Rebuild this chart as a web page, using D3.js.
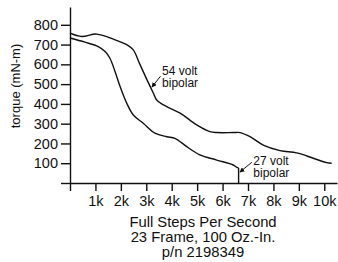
<!DOCTYPE html>
<html>
<head>
<meta charset="utf-8">
<script src="https://cdn.jsdelivr.net/npm/d3@7"></script>
<style>
  body { margin: 0; background: #fff; }
  text { font-family: "Liberation Sans", Arial, sans-serif; fill: #111; }
</style>
</head>
<body>
<div id="chart"></div>
<script>
// 54 volt bipolar curve (steps/s, mN-m)
const freq54 = [0, 460, 1050, 1770, 2290, 2490, 2750, 3020, 3280, 3410, 3800, 4330, 4980, 5500, 5770, 6420, 6690, 7080, 7600, 8260, 8920, 9570, 10090, 10290]
const torque54 = [758, 741, 753, 724, 695, 673, 600, 524, 454, 420, 386, 353, 294, 260, 255, 255, 255, 234, 192, 164, 152, 125, 103, 100]

// 27 volt bipolar curve
const freq27 = [0, 590, 1110, 1380, 1570, 1770, 1970, 2230, 2490, 2880, 3340, 3800, 4130, 4590, 5110, 5770, 6420, 6560, 6630]
const torque27 = [733, 712, 690, 665, 631, 564, 488, 404, 344, 302, 252, 234, 226, 184, 142, 116, 91, 79, 76]

const xTicks = [0, 1000, 2000, 3000, 4000, 5000, 6000, 7000, 8000, 9000, 10000]
const yTicks = [0, 100, 200, 300, 400, 500, 600, 700, 800]
const titleLines = ["Full Steps Per Second", "23 Frame, 100 Oz.-In.", "p/n 2198349"]

var width = 338, height = 262

var svg = d3.select("#chart").append("svg")
    .attr("width", width)
    .attr("height", height)

var x = d3.scaleLinear().domain([0, 10500]).range([70, 337])
var y = d3.scaleLinear().domain([0, 890]).range([183, 7])

var xAxis = d3.axisBottom(x)
    .tickValues(xTicks)
    .tickSize(8)
    .tickSizeOuter(0)
    .tickPadding(5)
    .tickFormat(d => d === 0 ? "" : (d / 1000) + "k")

var yAxis = d3.axisLeft(y)
    .tickValues(yTicks)
    .tickSize(9)
    .tickSizeOuter(0)
    .tickPadding(3)
    .tickFormat(d => d === 0 ? "" : d)

svg.append("g")
    .attr("transform", "translate(0," + y(0) + ")")
    .call(xAxis)
svg.append("g")
    .attr("transform", "translate(" + x(0) + ",0)")
    .call(yAxis)

svg.selectAll(".domain, .tick line")
    .attr("stroke", "#111")
    .attr("stroke-width", 1.4)
svg.selectAll(".tick text")
    .style("font-family", '"Liberation Sans", Arial, sans-serif')
    .style("font-size", "14.5px")
    .attr("fill", "#111")

// y-axis title
svg.append("text")
    .attr("transform", "translate(20,86) rotate(-90)")
    .attr("text-anchor", "middle")
    .style("font-size", "13px")
    .text("torque (mN-m)")

// x-axis titles
svg.selectAll(".xtitle")
    .data(titleLines)
    .enter()
    .append("text")
    .attr("class", "xtitle")
    .attr("x", 203)
    .attr("y", (d, i) => 227 + i * 15)
    .attr("text-anchor", "middle")
    .style("font-size", "14.8px")
    .text(d => d)

var line = d3.line()
    .x(d => x(d[0]))
    .y(d => y(d[1]))
    .curve(d3.curveCatmullRom.alpha(0.5))

var pts54 = freq54.map((f, i) => [f, torque54[i]])
var pts27 = freq27.map((f, i) => [f, torque27[i]])

svg.append("path")
    .datum(pts54)
    .attr("d", line)
    .attr("fill", "none")
    .attr("stroke", "#111")
    .attr("stroke-width", 1.4)

svg.append("path")
    .datum(pts27)
    .attr("d", line)
    .attr("fill", "none")
    .attr("stroke", "#111")
    .attr("stroke-width", 1.4)

// 27 volt drop-off to zero
var lastF = freq27[freq27.length - 1]
svg.append("line")
    .attr("x1", x(lastF)).attr("x2", x(lastF))
    .attr("y1", y(torque27[torque27.length - 1])).attr("y2", y(0))
    .attr("stroke", "#111")
    .attr("stroke-width", 1.4)

// arrow marker
svg.append("defs").append("marker")
    .attr("id", "arrow")
    .attr("viewBox", "0 0 10 10")
    .attr("refX", 9).attr("refY", 5)
    .attr("markerWidth", 5).attr("markerHeight", 5)
    .attr("orient", "auto")
    .append("path")
    .attr("d", "M0,0 L10,5 L0,10 z")
    .attr("fill", "#111")

// annotations
function note(tx, ty, label, ax1, ay1, ax2, ay2) {
    svg.append("text")
        .attr("x", x(tx)).attr("y", y(ty))
        .style("font-size", "12px")
        .selectAll("tspan")
        .data(label)
        .join("tspan")
        .attr("x", x(tx))
        .attr("dy", (d, i) => i === 0 ? 0 : 12)
        .text(d => d)
    svg.append("line")
        .attr("x1", x(ax1)).attr("y1", y(ay1))
        .attr("x2", x(ax2)).attr("y2", y(ay2))
        .attr("stroke", "#111")
        .attr("stroke-width", 1)
        .attr("marker-end", "url(#arrow)")
}

note(3620, 547, ["54 volt", "bipolar"], 3560, 540, 3220, 485)
note(7210, 91, ["27 volt", "bipolar"], 7150, 105, 6680, 55)
</script>
</body>
</html>
